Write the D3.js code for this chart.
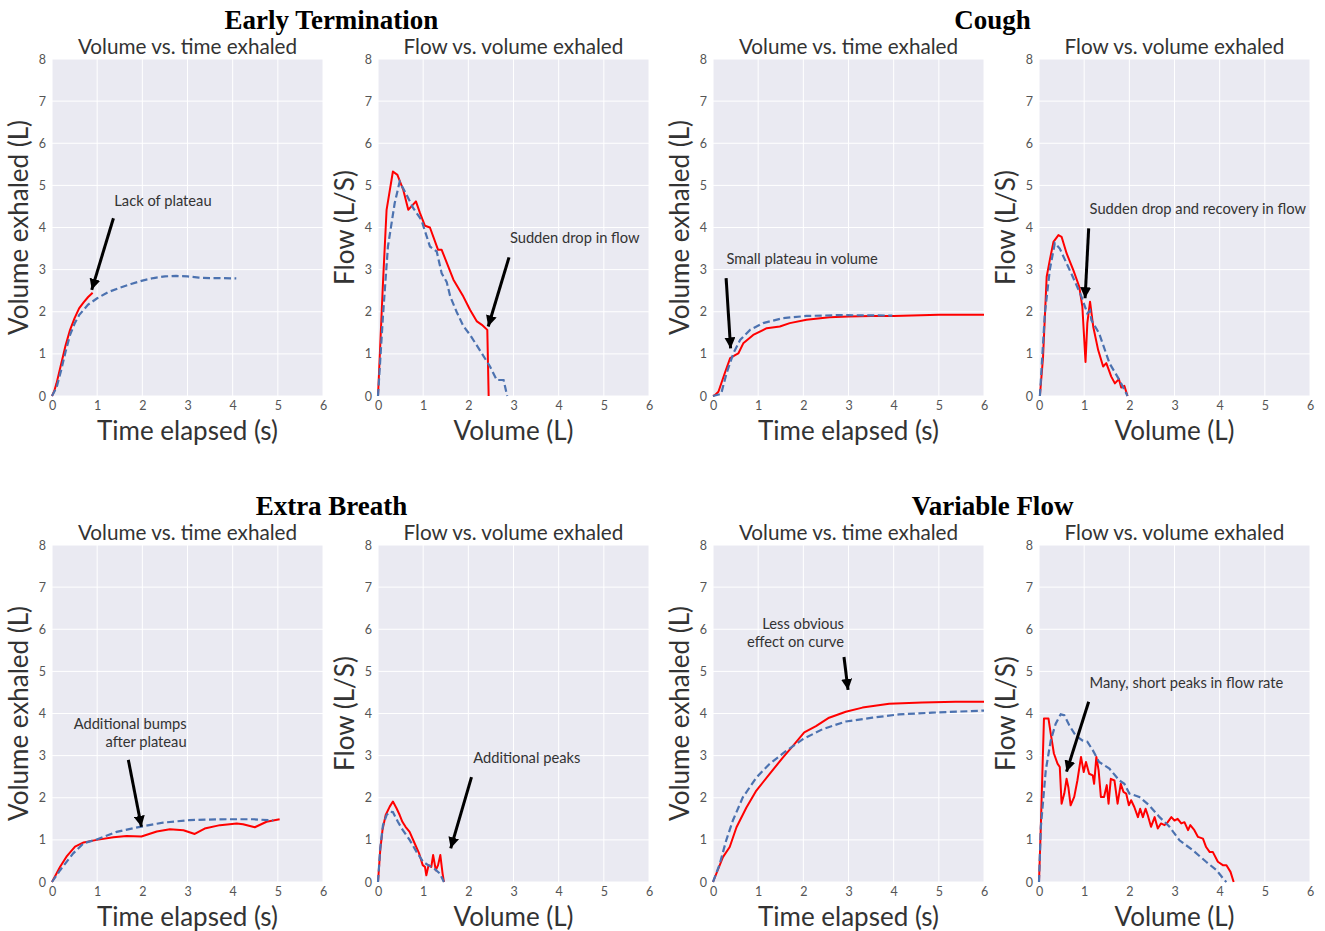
<!DOCTYPE html>
<html>
<head>
<meta charset="utf-8">
<script src="https://cdn.jsdelivr.net/npm/d3@7"></script>
<style>
  body { margin: 0; background: #fff; }
  text { font-family: Lato, "Open Sans", sans-serif; }
</style>
</head>
<body>
<div id="chart"></div>
<script>
// ---- data ----
const groupTitles = ["Early Termination", "Cough", "Extra Breath", "Variable Flow"];
const xTicks = [0, 1, 2, 3, 4, 5, 6];
const yTicks = [0, 1, 2, 3, 4, 5, 6, 7, 8];

// Early Termination
const etVolRed = [[0,0],[0.05,0.12],[0.1,0.3],[0.2,0.75],[0.3,1.2],[0.4,1.57],[0.5,1.85],[0.6,2.08],[0.7,2.22],[0.8,2.35],[0.9,2.45]];
const etVolBlue = [[0,0],[0.1,0.2],[0.2,0.6],[0.3,1.05],[0.4,1.45],[0.5,1.72],[0.6,1.92],[0.8,2.17],[1.0,2.32],[1.25,2.47],[1.5,2.57],[1.75,2.66],[2.0,2.74],[2.25,2.8],[2.5,2.84],[2.75,2.85],[3.0,2.84],[3.25,2.81],[3.5,2.8],[3.75,2.8],[4.08,2.79]];
const etFlowRed = [[0,0],[0.11,2.68],[0.19,4.42],[0.33,5.33],[0.43,5.25],[0.56,4.89],[0.67,4.42],[0.74,4.5],[0.84,4.62],[0.93,4.34],[1.04,4.04],[1.15,4.0],[1.33,3.47],[1.41,3.47],[1.67,2.76],[1.89,2.36],[2.04,2.04],[2.19,1.77],[2.3,1.69],[2.42,1.57],[2.45,0]];
const etFlowBlue = [[0,0],[0.11,1.9],[0.22,3.55],[0.37,4.58],[0.48,5.09],[0.63,4.78],[0.78,4.46],[0.96,4.18],[1.15,3.55],[1.3,3.43],[1.41,2.91],[1.52,2.71],[1.6,2.36],[1.74,2.0],[1.89,1.66],[2.04,1.45],[2.3,1.01],[2.48,0.7],[2.63,0.38],[2.78,0.38],[2.86,0]];

// Cough
const coVolRed = [[0,0],[0.04,0.02],[0.12,0.1],[0.26,0.54],[0.38,0.9],[0.49,0.97],[0.56,1.01],[0.67,1.25],[0.89,1.45],[1.19,1.61],[1.48,1.65],[1.7,1.73],[2.07,1.81],[2.58,1.87],[3.0,1.89],[3.5,1.9],[4.0,1.9],[5.0,1.93],[6.0,1.93]];
const coVolBlue = [[0,0],[0.18,0.05],[0.3,0.54],[0.45,1.01],[0.6,1.33],[0.82,1.57],[1.11,1.73],[1.55,1.85],[2.07,1.9],[2.8,1.92],[3.97,1.91]];
const coFlowRed = [[0.02,0],[0.09,0.93],[0.17,2.83],[0.24,3.23],[0.32,3.66],[0.43,3.82],[0.5,3.78],[0.61,3.39],[0.76,2.99],[0.89,2.6],[0.96,2.12],[1.03,0.81],[1.07,1.73],[1.13,2.24],[1.2,1.65],[1.31,1.09],[1.42,0.7],[1.49,0.78],[1.6,0.46],[1.68,0.3],[1.77,0.4],[1.82,0.2],[1.89,0.24],[1.96,0]];
const coFlowBlue = [[0.02,0],[0.13,1.96],[0.24,3.0],[0.35,3.63],[0.46,3.5],[0.61,3.15],[0.79,2.73],[0.94,2.36],[1.07,1.96],[1.13,2.03],[1.16,1.8],[1.33,1.49],[1.56,0.78],[1.78,0.38],[1.96,0]];

// Extra Breath
const ebVolRed = [[0,0],[0.18,0.36],[0.32,0.6],[0.51,0.84],[0.7,0.94],[0.99,1.0],[1.36,1.06],[1.65,1.09],[1.98,1.08],[2.32,1.2],[2.61,1.25],[2.91,1.23],[3.16,1.14],[3.38,1.27],[3.72,1.35],[4.09,1.39],[4.23,1.37],[4.49,1.3],[4.75,1.43],[5.04,1.49]];
const ebVolBlue = [[0,0],[0.18,0.28],[0.47,0.68],[0.7,0.92],[0.99,1.01],[1.43,1.19],[1.95,1.31],[2.46,1.41],[3.05,1.47],[3.86,1.49],[4.45,1.49],[4.9,1.46]];
const ebFlowRed = [[0,0],[0.05,0.76],[0.1,1.24],[0.17,1.59],[0.26,1.79],[0.33,1.91],[0.41,1.75],[0.48,1.59],[0.54,1.43],[0.61,1.31],[0.7,1.19],[0.81,0.92],[0.91,0.68],[0.99,0.4],[1.04,0.36],[1.07,0.16],[1.12,0.4],[1.18,0.36],[1.22,0.64],[1.28,0.28],[1.33,0.4],[1.38,0.64],[1.43,0.2],[1.46,0]];
const ebFlowBlue = [[0,0],[0.05,0.8],[0.11,1.35],[0.19,1.59],[0.26,1.67],[0.33,1.66],[0.44,1.43],[0.55,1.23],[0.7,1.0],[0.85,0.72],[1.0,0.48],[1.11,0.4],[1.22,0.34],[1.37,0.2],[1.46,0]];

// Variable Flow
const vfVolRed = [[0,0],[0.22,0.59],[0.37,0.83],[0.52,1.3],[0.74,1.77],[0.96,2.17],[1.25,2.56],[1.55,2.96],[1.77,3.23],[2.02,3.55],[2.28,3.7],[2.57,3.9],[2.94,4.04],[3.31,4.14],[3.9,4.23],[4.63,4.26],[5.37,4.28],[6.0,4.28]];
const vfVolBlue = [[0,0],[0.15,0.43],[0.29,0.98],[0.44,1.46],[0.66,2.01],[0.96,2.48],[1.25,2.8],[1.62,3.11],[1.99,3.39],[2.43,3.63],[2.94,3.81],[3.53,3.9],[4.12,3.98],[4.85,4.02],[6.0,4.07]];
const vfFlowRed = [[0,0],[0.04,1.3],[0.11,3.88],[0.21,3.88],[0.26,3.52],[0.33,3.05],[0.41,2.81],[0.46,2.73],[0.5,1.86],[0.56,2.1],[0.61,2.45],[0.65,2.25],[0.7,1.82],[0.78,2.02],[0.85,2.41],[0.93,2.97],[0.99,2.61],[1.04,2.85],[1.11,2.57],[1.19,2.53],[1.22,2.33],[1.27,2.97],[1.32,2.65],[1.37,2.02],[1.44,2.02],[1.5,2.3],[1.54,1.86],[1.59,2.45],[1.67,2.41],[1.74,1.86],[1.81,2.33],[1.87,2.14],[1.93,2.1],[1.99,1.82],[2.04,1.94],[2.11,1.78],[2.19,1.54],[2.24,1.74],[2.3,1.54],[2.36,1.74],[2.41,1.58],[2.48,1.31],[2.56,1.54],[2.63,1.27],[2.7,1.39],[2.78,1.35],[2.85,1.42],[2.93,1.54],[3.0,1.46],[3.07,1.5],[3.15,1.39],[3.22,1.42],[3.3,1.23],[3.35,1.35],[3.44,1.23],[3.52,1.07],[3.63,1.03],[3.7,0.83],[3.78,0.71],[3.85,0.71],[3.96,0.48],[4.07,0.4],[4.15,0.4],[4.24,0.24],[4.31,0]];
const vfFlowBlue = [[0,0],[0.04,1.3],[0.15,2.65],[0.26,3.36],[0.37,3.76],[0.48,3.98],[0.56,3.96],[0.67,3.72],[0.81,3.48],[0.96,3.36],[1.07,3.33],[1.19,3.13],[1.33,2.85],[1.56,2.69],[1.78,2.41],[1.89,2.33],[2.0,2.1],[2.22,2.02],[2.44,1.82],[2.67,1.54],[2.89,1.31],[3.11,0.99],[3.41,0.75],[3.7,0.48],[3.93,0.28],[4.11,0.04],[4.15,0]];

// annotations: text lines, text anchor point (data), arrow tail, arrow tip
const notes = [
  {panel: 0, lines: ["Lack of plateau"], anchor: "start", at: [1.38, 4.5], tail: [1.36, 4.22], tip: [0.88, 2.52]},
  {panel: 1, lines: ["Sudden drop in flow"], anchor: "start", at: [2.92, 3.63], tail: [2.9, 3.29], tip: [2.44, 1.65]},
  {panel: 2, lines: ["Small plateau in volume"], anchor: "start", at: [0.3, 3.13], tail: [0.29, 2.8], tip: [0.39, 1.13]},
  {panel: 3, lines: ["Sudden drop and recovery in flow"], anchor: "start", at: [1.12, 4.32], tail: [1.1, 3.98], tip: [1.02, 2.32]},
  {panel: 4, lines: ["Additional bumps", "after plateau"], anchor: "end", at: [2.98, 3.63], tail: [1.69, 2.9], tip: [1.98, 1.31]},
  {panel: 5, lines: ["Additional peaks"], anchor: "start", at: [2.11, 2.83], tail: [2.07, 2.49], tip: [1.61, 0.8]},
  {panel: 6, lines: ["Less obvious", "effect on curve"], anchor: "end", at: [2.9, 6.0], tail: [2.9, 5.34], tip: [2.99, 4.56]},
  {panel: 7, lines: ["Many, short peaks in flow rate"], anchor: "start", at: [1.12, 4.6], tail: [1.1, 4.28], tip: [0.61, 2.62]}
];

const panels = [
  {title: "Volume vs. time exhaled", xLabel: "Time elapsed (s)", yLabel: "Volume exhaled (L)", red: etVolRed, blue: etVolBlue},
  {title: "Flow vs. volume exhaled", xLabel: "Volume (L)", yLabel: "Flow (L/S)", red: etFlowRed, blue: etFlowBlue},
  {title: "Volume vs. time exhaled", xLabel: "Time elapsed (s)", yLabel: "Volume exhaled (L)", red: coVolRed, blue: coVolBlue},
  {title: "Flow vs. volume exhaled", xLabel: "Volume (L)", yLabel: "Flow (L/S)", red: coFlowRed, blue: coFlowBlue},
  {title: "Volume vs. time exhaled", xLabel: "Time elapsed (s)", yLabel: "Volume exhaled (L)", red: ebVolRed, blue: ebVolBlue},
  {title: "Flow vs. volume exhaled", xLabel: "Volume (L)", yLabel: "Flow (L/S)", red: ebFlowRed, blue: ebFlowBlue},
  {title: "Volume vs. time exhaled", xLabel: "Time elapsed (s)", yLabel: "Volume exhaled (L)", red: vfVolRed, blue: vfVolBlue},
  {title: "Flow vs. volume exhaled", xLabel: "Volume (L)", yLabel: "Flow (L/S)", red: vfFlowRed, blue: vfFlowBlue}
];

// ---- layout ----
const W = 1325, H = 931;
const colLeft = [52, 378, 713, 1039];
const rowTop = [59, 545];
const pw = 271, ph = 337;

const svg = d3.select("#chart").append("svg").attr("width", W).attr("height", H);

svg.append("defs").append("marker")
  .attr("id", "head")
  .attr("markerUnits", "userSpaceOnUse")
  .attr("viewBox", "0 0 10 10")
  .attr("refX", 10).attr("refY", 5)
  .attr("markerWidth", 11).attr("markerHeight", 11)
  .attr("orient", "auto")
  .append("path").attr("d", "M0,0 L10,5 L0,10 z").attr("fill", "#000");

// group titles
groupTitles.forEach((t, i) => {
  const row = Math.floor(i / 2), col = (i % 2) * 2;
  const cx = (colLeft[col] + colLeft[col + 1] + pw) / 2 - 19;
  svg.append("text")
    .attr("x", cx).attr("y", rowTop[row] - 30)
    .attr("text-anchor", "middle")
    .style("font-family", "'Liberation Serif', 'Times New Roman', serif")
    .style("font-weight", "bold").style("font-size", "27px")
    .attr("fill", "#000")
    .text(t);
});

panels.forEach((p, i) => {
  const row = Math.floor(i / 4), col = i % 4;
  const g = svg.append("g").attr("transform", `translate(${colLeft[col]},${rowTop[row]})`);
  const x = d3.scaleLinear().domain([0, 6]).range([0, pw]);
  const y = d3.scaleLinear().domain([0, 8]).range([ph, 0]);

  g.append("rect").attr("width", pw).attr("height", ph).attr("fill", "#EAEAF2");

  g.selectAll(".gx").data(xTicks).enter().append("line")
    .attr("x1", d => x(d)).attr("x2", d => x(d)).attr("y1", 0).attr("y2", ph)
    .attr("stroke", "#fff").attr("stroke-width", 1);
  g.selectAll(".gy").data(yTicks).enter().append("line")
    .attr("y1", d => y(d)).attr("y2", d => y(d)).attr("x1", 0).attr("x2", pw)
    .attr("stroke", "#fff").attr("stroke-width", 1);

  const ax = g.append("g").attr("transform", `translate(0,${ph})`)
    .call(d3.axisBottom(x).tickValues(xTicks).tickFormat(d3.format("d")).tickSize(0).tickPadding(5));
  const ay = g.append("g")
    .call(d3.axisLeft(y).tickValues(yTicks).tickFormat(d3.format("d")).tickSize(0).tickPadding(6));
  [ax, ay].forEach(a => {
    a.select(".domain").remove();
    a.selectAll("text").style("font-size", "12.5px").attr("fill", "#555");
  });

  const line = d3.line().x(d => x(d[0])).y(d => y(d[1]));
  g.append("path").datum(p.red).attr("d", line)
    .attr("fill", "none").attr("stroke", "#FF0000").attr("stroke-width", 2)
    .attr("stroke-linejoin", "round");
  g.append("path").datum(p.blue).attr("d", line)
    .attr("fill", "none").attr("stroke", "#4C72B0").attr("stroke-width", 2.2)
    .attr("stroke-dasharray", "7,3.5");

  g.append("text").attr("x", pw / 2).attr("y", -5).attr("text-anchor", "middle")
    .style("font-size", "20.7px").attr("fill", "#333").text(p.title);
  g.append("text").attr("x", pw / 2).attr("y", ph + 44).attr("text-anchor", "middle")
    .style("font-size", "26px").attr("fill", "#333").text(p.xLabel);
  g.append("text")
    .attr("transform", `translate(${-24},${ph / 2}) rotate(-90)`)
    .attr("text-anchor", "middle")
    .style("font-size", "26px").attr("fill", "#333").text(p.yLabel);

  notes.filter(n => n.panel === i).forEach(n => {
    const t = g.append("text")
      .attr("x", x(n.at[0])).attr("y", y(n.at[1]))
      .attr("text-anchor", n.anchor)
      .style("font-size", "14.7px").attr("fill", "#333");
    n.lines.forEach((l, k) => {
      t.append("tspan").attr("x", x(n.at[0])).attr("dy", k === 0 ? 0 : 18).text(l);
    });
    g.append("line")
      .attr("x1", x(n.tail[0])).attr("y1", y(n.tail[1]))
      .attr("x2", x(n.tip[0])).attr("y2", y(n.tip[1]))
      .attr("stroke", "#000").attr("stroke-width", 3)
      .attr("marker-end", "url(#head)");
  });
});
</script>
</body>
</html>
